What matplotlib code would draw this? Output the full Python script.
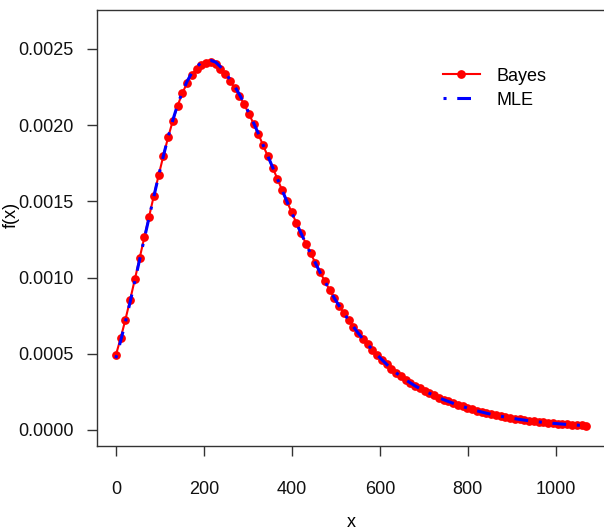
import matplotlib
matplotlib.use('Agg')
import matplotlib.pyplot as plt

plt.rcParams['font.family'] = ['Liberation Sans', 'DejaVu Sans']

# grid of x values
x_vals = [0, 10.8, 21.6, 32.4, 43.2, 54, 64.8, 75.6, 86.4, 97.2,
          108, 118.8, 129.6, 140.4, 151.2, 162, 172.8, 183.6, 194.4, 205.2,
          216, 226.8, 237.6, 248.4, 259.2, 270, 280.8, 291.6, 302.4, 313.2,
          324, 334.8, 345.6, 356.4, 367.2, 378, 388.8, 399.6, 410.4, 421.2,
          432, 442.8, 453.6, 464.4, 475.2, 486, 496.8, 507.6, 518.4, 529.2,
          540, 550.8, 561.6, 572.4, 583.2, 594, 604.8, 615.6, 626.4, 637.2,
          648, 658.8, 669.6, 680.4, 691.2, 702, 712.8, 723.6, 734.4, 745.2,
          756, 766.8, 777.6, 788.4, 799.2, 810, 820.8, 831.6, 842.4, 853.2,
          864, 874.8, 885.6, 896.4, 907.2, 918, 928.8, 939.6, 950.4, 961.2,
          972, 982.8, 993.6, 1004.4, 1015.2, 1026, 1036.8, 1047.6, 1058.4, 1069.2]

bayes = [0.000490, 0.000600, 0.000722, 0.000852, 0.000988, 0.001126, 0.001264, 0.001400, 0.001537, 0.001670,
         0.001798, 0.001920, 0.002030, 0.002128, 0.002210, 0.002278, 0.002332, 0.002370, 0.002395, 0.002408,
         0.002412, 0.002400, 0.002370, 0.002333, 0.002290, 0.002246, 0.002194, 0.002137, 0.002075, 0.002009,
         0.001941, 0.001867, 0.001795, 0.001722, 0.001647, 0.001573, 0.001500, 0.001428, 0.001358, 0.001290,
         0.001223, 0.001158, 0.001096, 0.001033, 0.000975, 0.000918, 0.000865, 0.000815, 0.000766, 0.000721,
         0.000678, 0.000636, 0.000598, 0.000561, 0.000527, 0.000493, 0.000461, 0.000431, 0.000402, 0.000375,
         0.000352, 0.000330, 0.000309, 0.000289, 0.000272, 0.000255, 0.000241, 0.000226, 0.000212, 0.000199,
         0.000187, 0.000175, 0.000164, 0.000154, 0.000144, 0.000135, 0.000126, 0.000118, 0.000110, 0.000103,
         0.0000963, 0.0000900, 0.0000842, 0.0000787, 0.0000736, 0.0000688, 0.0000643, 0.0000601, 0.0000562, 0.0000526,
         0.0000493, 0.0000462, 0.0000433, 0.0000406, 0.0000380, 0.0000356, 0.0000334, 0.0000313, 0.0000294, 0.0000276]

mle = [0.000470, 0.000582, 0.000706, 0.000838, 0.000976, 0.001116, 0.001256, 0.001394, 0.001532, 0.001667,
       0.001797, 0.001921, 0.002034, 0.002134, 0.002218, 0.002288, 0.002344, 0.002384, 0.002410, 0.002423,
       0.002425, 0.002414, 0.002384, 0.002345, 0.002302, 0.002256, 0.002202, 0.002144, 0.002081, 0.002014,
       0.001945, 0.001870, 0.001797, 0.001723, 0.001648, 0.001573, 0.001500, 0.001427, 0.001357, 0.001289,
       0.001222, 0.001157, 0.001095, 0.001032, 0.000974, 0.000917, 0.000864, 0.000814, 0.000765, 0.000720,
       0.000677, 0.000635, 0.000597, 0.000560, 0.000526, 0.000492, 0.000460, 0.000430, 0.000401, 0.000374,
       0.000351, 0.000329, 0.000308, 0.000288, 0.000271, 0.000254, 0.000240, 0.000225, 0.000211, 0.000198,
       0.000186, 0.000174, 0.000163, 0.000153, 0.000143, 0.000134, 0.000125, 0.000117, 0.000109, 0.000102,
       0.0000955, 0.0000893, 0.0000836, 0.0000781, 0.0000731, 0.0000683, 0.0000639, 0.0000597, 0.0000558, 0.0000522,
       0.0000490, 0.0000459, 0.0000430, 0.0000403, 0.0000378, 0.0000354, 0.0000332, 0.0000311, 0.0000292, 0.0000274]

x_ticks = [0, 200, 400, 600, 800, 1000]
y_ticks = [0.0, 0.0005, 0.0010, 0.0015, 0.0020, 0.0025]

fs = 13

fig = plt.figure(figsize=(6.04, 5.31), dpi=100)
ax = fig.add_axes([97 / 604, 85 / 531, 508 / 604, 436 / 531])

ax.plot(x_vals, bayes, color='red', lw=1.5, marker='o', markersize=6.3,
        markeredgewidth=0, label='Bayes')
ax.plot(x_vals, mle, color='blue', lw=2.2, linestyle=(0, (1, 3.5, 4.5, 3.5)),
        label='MLE')

ax.set_xlim(-42.8, 1111.8)
ax.set_ylim(-0.000106, 0.002756)
ax.set_xticks(x_ticks)
ax.set_yticks(y_ticks)
ax.set_xticklabels([str(t) for t in x_ticks])
ax.set_yticklabels(['%.4f' % t for t in y_ticks])

for s in ax.spines.values():
    s.set_linewidth(1.0)
    s.set_color('#333333')

ax.tick_params(axis='both', direction='out', length=7, width=1.0, color='#333333',
               labelsize=fs, labelcolor='#111111')
ax.tick_params(axis='x', pad=18)
ax.tick_params(axis='y', pad=10)

ax.set_xlabel('x', fontsize=fs)
ax.xaxis.set_label_coords(0.5, -0.155)
ax.set_ylabel('f(x)', fontsize=fs)
ax.yaxis.set_label_coords(-0.152, 0.53)

ax.legend(loc='upper left', bbox_to_anchor=(0.681, 0.868), frameon=False,
          fontsize=fs, handlelength=2.05, handletextpad=0.9, labelspacing=0.4,
          borderpad=0, borderaxespad=0, numpoints=1)

fig.savefig('out.png', dpi=100)
